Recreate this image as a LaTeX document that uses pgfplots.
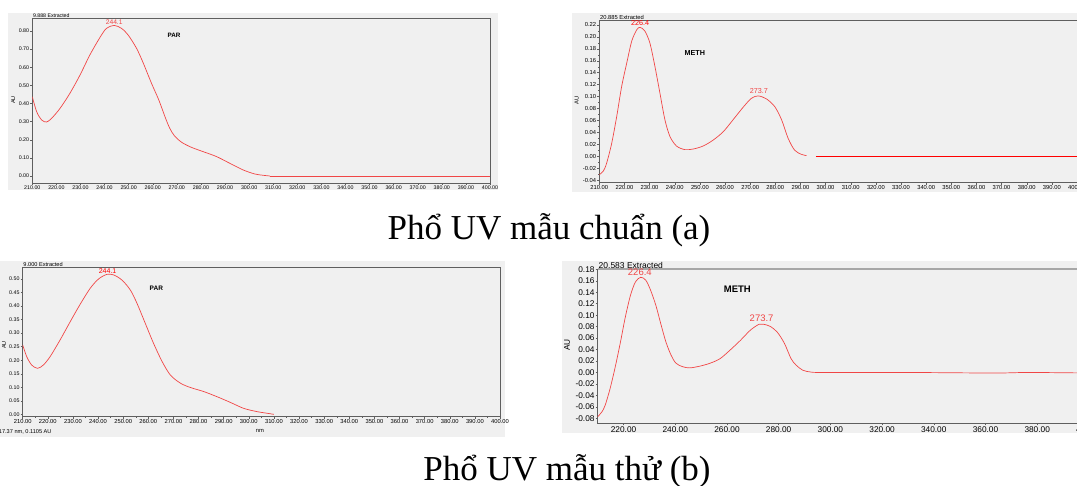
\documentclass[border=0pt]{standalone}
\usepackage{fontspec}
\setmainfont{Liberation Serif}
\newfontfamily\sansf{Liberation Sans}
\usepackage{pgfplots}
\pgfplotsset{compat=1.18}
\definecolor{bgc}{RGB}{240,240,240}
\definecolor{curve}{RGB}{240,70,70}
\definecolor{frame}{RGB}{95,95,95}
\tikzset{fs/.style={font=\sansf\fontsize{#1}{#1}\selectfont}}
\pgfplotsset{
  uvbase/.style={anchor=south west, scale only axis, xmin=210, xmax=400,
    axis line style={draw=frame, line width=0.6pt},
    tick align=outside, xtick pos=bottom, ytick pos=left,
    major tick length=2pt, minor tick length=1.2pt,
    tick style={draw=frame, line width=0.4pt},
    clip mode=individual,
    /pgf/number format/fixed, /pgf/number format/fixed zerofill,
    /pgf/number format/precision=2, /pgf/number format/assume math mode=true,
  },
  cv/.style={color=curve, line width=0.7pt, smooth, tension=0.5, mark=none},
}
\begin{document}
\begin{tikzpicture}[x=1pt,y=1pt]
\path[use as bounding box] (0pt,0pt) rectangle (1077pt,486pt);
\fill[white] (0pt,0pt) rectangle (1077pt,486pt);
% backgrounds
\fill[bgc] (8pt,296pt) rectangle (498pt,473pt);
\fill[bgc] (572pt,294pt) rectangle (1077pt,473pt);
\fill[bgc] (0pt,49pt) rectangle (505pt,225pt);
\fill[bgc] (562pt,53pt) rectangle (1077pt,225pt);

% ---------- Panel 1: PAR standard ----------
\begin{axis}[uvbase, at={(32.3pt,303pt)}, width=457.7pt, height=165pt,
  ymin=-0.0386, ymax=0.872, ytick={0,0.1,...,0.81}, xtick={210,220,...,400},
  xticklabel style={fs=5.3, inner sep=1pt}, yticklabel style={fs=5.3, inner sep=1pt}]
\addplot[cv] coordinates {(210,0.438)(211.8,0.355)(213.9,0.309)(215.9,0.298)(218,0.318)(221.5,0.373)(225.6,0.456)(229.8,0.557)(233.9,0.668)(238.1,0.765)(240.8,0.815)(244,0.831)(247,0.815)(249.8,0.778)(253.3,0.704)(256.1,0.622)(259.5,0.511)(262.5,0.42)(265,0.33)(267,0.265)(269,0.222)(272,0.186)(276.1,0.158)(281,0.134)(286.5,0.107)(292,0.07)(297.6,0.033)(302.4,0.011)(305.8,0.004)(308.6,0.0)};
\addplot[color=curve, line width=0.7pt, mark=none] coordinates {(308.6,0)(400,0)};
\node[fs=6.7, text=curve, anchor=base] at (axis cs:244,0.838) {244.1};
\node[font=\sansf\bfseries\fontsize{6.3}{6.3}\selectfont] at (axis cs:268.8,0.774) {PAR};
\node[fs=5.2, anchor=south west, inner sep=0.6pt] at (rel axis cs:0,1) {9.888 Extracted};
\end{axis}

% ---------- Panel 2: METH standard ----------
\begin{axis}[uvbase, at={(599.3pt,303.3pt)}, width=477.7pt, height=162pt,
  ymin=-0.0445, ymax=0.2272, ytick={-0.04,-0.02,...,0.221}, xtick={210,220,...,400},
  minor y tick num=1,
  xticklabel style={fs=5.8, inner sep=1pt}, yticklabel style={fs=5.8, inner sep=1pt}]
\addplot[cv] coordinates {(210,-0.031)(211.6,-0.025)(212.9,-0.012)(214.9,0.021)(216.9,0.066)(218.9,0.117)(220.9,0.156)(222.9,0.193)(224.9,0.212)(226.2,0.216)(228.1,0.21)(230.1,0.19)(232.1,0.151)(234.1,0.106)(236.1,0.061)(238.1,0.033)(240.7,0.017)(244,0.011)(247.4,0.012)(251.3,0.017)(255.3,0.027)(259.3,0.041)(263.2,0.061)(267.2,0.082)(270.5,0.097)(273.2,0.101)(276.5,0.096)(279.8,0.083)(282.5,0.061)(285.1,0.03)(287.7,0.010)(290.4,0.003)(292.4,0.001)};
\addplot[color=red, line width=1pt, mark=none] coordinates {(296.1,0)(400,0)};
\node[fs=7.2, text=red, anchor=base] at (axis cs:226.2,0.219) {226.4};
\node[fs=7.2, text=curve, anchor=base] at (axis cs:273.5,0.105) {273.7};
\node[font=\sansf\bfseries\fontsize{7.2}{7.2}\selectfont] at (axis cs:248,0.173) {METH};
\node[fs=5.8, anchor=south west, inner sep=0.6pt] at (rel axis cs:0,1) {20.885 Extracted};
\end{axis}

% ---------- Panel 3: PAR sample ----------
\begin{axis}[uvbase, at={(22.7pt,69.3pt)}, width=477.3pt, height=149pt,
  ymin=-0.0087, ymax=0.5417, ytick={0,0.05,...,0.51}, xtick={210,220,...,400},
  minor x tick num=1,
  xticklabel style={fs=5.8, inner sep=1pt}, yticklabel style={fs=5.3, inner sep=1pt}]
\addplot[cv] coordinates {(210,0.256)(211.6,0.213)(213.6,0.182)(215.9,0.170)(218.2,0.182)(220.9,0.213)(224.9,0.275)(228.9,0.342)(232.9,0.407)(236.9,0.466)(240.2,0.50)(243.5,0.517)(246.2,0.515)(249.5,0.496)(252.8,0.46)(255.5,0.41)(258.8,0.336)(262.1,0.262)(265.5,0.195)(268.8,0.145)(272.8,0.115)(276.8,0.099)(282.1,0.084)(287.4,0.065)(292.7,0.044)(298,0.022)(303.3,0.010)(307.3,0.004)(310,0.0)};
\node[fs=7, text=red, anchor=base] at (axis cs:243.8,0.52) {244.1};
\node[font=\sansf\bfseries\fontsize{6.5}{6.5}\selectfont] at (axis cs:263.2,0.466) {PAR};
\node[fs=5.6, anchor=south west, inner sep=0.6pt] at (rel axis cs:0,1) {9.000 Extracted};
\end{axis}

% ---------- Panel 4: METH sample ----------
\begin{axis}[uvbase, at={(597.7pt,62.7pt)}, width=491.2pt, height=154pt,
  ymin=-0.0887, ymax=0.18, ytick={-0.08,-0.06,...,0.181}, xtick={220,240,...,400},
  xticklabel style={fs=8.3, inner sep=1.5pt}, yticklabel style={fs=8.3, inner sep=1pt}]
\addplot[cv] coordinates {(210,-0.077)(211.6,-0.069)(212.9,-0.057)(214.8,-0.028)(216.8,0.010)(218.8,0.053)(220.7,0.097)(222.7,0.135)(224.6,0.158)(226.6,0.166)(228.6,0.161)(230.5,0.143)(232.5,0.117)(234.4,0.085)(236.4,0.053)(238.4,0.030)(240.3,0.016)(242.9,0.010)(245.6,0.008)(249.5,0.011)(253.4,0.016)(257.3,0.024)(261.2,0.039)(265.2,0.056)(269.1,0.074)(272.4,0.084)(274.3,0.084)(276.9,0.080)(279.5,0.070)(282.2,0.051)(284.8,0.024)(286.7,0.013)(289.3,0.004)(292.6,0.0006)(297.8,0)(330,0)(363,-0.001)(376,0)(392,-0.0006)(400,-0.001)};
\draw[frame!55, line width=2pt] (rel axis cs:0,1) -- (rel axis cs:1,1);
\node[fs=9.5, text=curve, anchor=base] at (axis cs:226.3,0.1685) {226.4};
\node[fs=9.5, text=curve, anchor=base] at (axis cs:273.4,0.0885) {273.7};
\node[font=\sansf\bfseries\fontsize{9.5}{9.5}\selectfont] at (axis cs:264,0.145) {METH};
\node[fs=8.5, anchor=south west, inner sep=0.8pt] at (rel axis cs:0,1) {20.583 Extracted};
\end{axis}

% axis labels and extra texts
\node[fs=5.5, rotate=90] at (13.3pt,386pt) {AU};
\node[fs=5.8, rotate=90] at (576.7pt,386pt) {AU};
\node[fs=5.5, rotate=90] at (4pt,141pt) {AU};
\node[fs=8.3, rotate=90] at (567pt,141pt) {AU};
\node[fs=5.8] at (260pt,55.5pt) {nm};
\node[fs=5.6, anchor=east] at (55pt,54pt) {317.37 nm, 0.1105 AU};

% captions
\node[font=\fontsize{35}{35}\selectfont, anchor=base] at (549pt,246pt) {Phổ UV mẫu chuẩn (a)};
\node[font=\fontsize{35}{35}\selectfont, anchor=base] at (567pt,5pt) {Phổ UV mẫu thử (b)};
\end{tikzpicture}
\end{document}
